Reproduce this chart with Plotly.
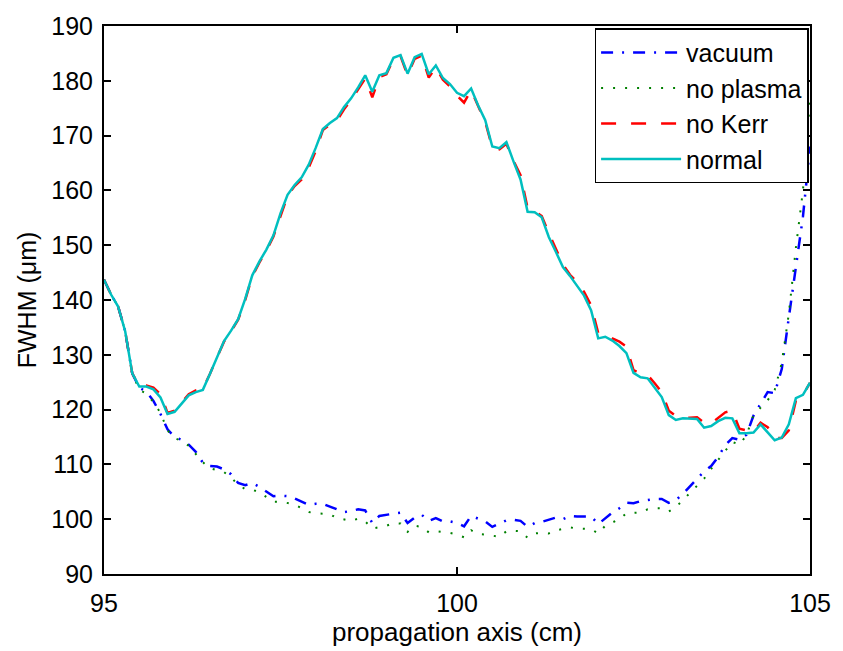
import numpy as np
import plotly.graph_objects as go

# propagation axis positions (cm), 0.1 cm grid
z_cm = np.round(np.arange(950, 1051) / 10.0, 1)

vacuum = [
    143.7, 141.0, 138.8, 134.3, 126.6, 124.0, 123.3, 121.6, 119.2, 116.4,
    115.0, 114.5, 113.6, 112.3, 110.3, 109.7, 109.6, 109.1, 108.2, 106.6,
    106.2, 106.6, 105.9, 105.0, 104.2, 104.3, 104.2, 103.8, 103.2, 102.6,
    102.8, 102.8, 102.3, 101.8, 101.3, 101.5, 101.8, 101.6, 99.3, 100.6,
    100.8, 101.1, 101.2, 99.3, 100.3, 100.8, 99.7, 100.2, 99.6, 99.6,
    99.3, 98.7, 100.6, 100.1, 99.6, 98.6, 99.2, 99.8, 99.9, 99.7,
    98.6, 99.3, 99.5, 99.9, 100.3, 100.0, 100.6, 100.5, 100.5, 100.5,
    99.1, 100.2, 101.2, 102.0, 103.0, 102.9, 103.3, 103.5, 103.7, 103.7,
    103.0, 103.5, 104.6, 106.0, 107.3, 108.7, 109.7, 111.4, 113.5, 114.8,
    114.5, 115.4, 118.9, 121.0, 123.2, 123.0, 127.4, 136.8, 146.3, 155.2,
    168.0,
]

no_plasma = [
    143.7, 141.0, 138.8, 134.3, 126.6, 123.6, 122.9, 121.4, 119.4, 116.2,
    114.8, 114.3, 113.4, 112.0, 110.4, 109.3, 109.0, 108.6, 107.6, 106.3,
    105.5, 105.4, 104.9, 104.0, 103.2, 103.2, 103.0, 102.7, 102.0, 101.3,
    101.1, 101.0, 100.9, 100.2, 99.9, 99.7, 100.1, 99.6, 98.3, 98.5,
    98.8, 99.3, 99.2, 97.7, 98.8, 98.6, 97.6, 97.8, 97.7, 97.5,
    97.2, 96.7, 98.0, 97.3, 97.2, 97.0, 96.8, 97.8, 97.9, 97.8,
    96.6, 97.4, 97.5, 97.4, 98.0, 98.2, 98.5, 98.3, 98.3, 98.2,
    97.4, 98.8, 99.4, 100.0, 101.1, 101.1, 101.2, 101.8, 102.0, 102.0,
    101.4, 102.2, 103.5, 104.9, 106.1, 107.4, 109.2, 110.8, 112.3, 114.1,
    113.6, 115.3, 119.0, 120.3, 121.7, 123.6, 128.5, 137.5, 149.5, 160.0,
    176.5,
]

no_kerr = [
    143.7, 141.0, 138.8, 134.3, 126.6, 124.3, 124.4, 124.0, 122.8, 119.4,
    119.8, 121.2, 122.8, 123.5, 123.8, 126.5, 129.3, 132.4, 134.3, 136.4,
    140.0, 144.3, 146.8, 149.0, 151.6, 155.5, 159.0, 160.8, 162.0, 164.2,
    167.2, 171.0, 172.0, 172.7, 174.8, 176.5, 178.5, 180.4, 177.0, 180.7,
    181.2, 184.0, 184.5, 181.0, 184.0, 184.6, 180.6, 182.5, 180.2, 179.0,
    177.3, 176.0, 178.3, 175.3, 172.5, 167.8, 167.5, 168.5, 165.4, 162.8,
    156.8, 156.2, 155.3, 152.2, 149.4, 146.5, 144.6, 143.3, 141.5, 139.0,
    134.0, 133.8, 133.0, 132.4, 131.5, 127.2, 126.6, 126.3, 124.8, 123.2,
    119.8, 118.8, 118.6, 118.5, 118.6, 117.6, 117.5, 118.5, 119.5, 119.8,
    116.5, 116.2, 116.0, 117.6, 116.8, 114.8, 114.8, 116.2, 121.6, 122.6,
    124.9,
]

normal = [
    143.7, 141.0, 138.8, 134.3, 126.6, 124.2, 124.2, 123.7, 122.2, 119.2,
    119.6, 121.1, 122.6, 123.2, 123.6, 126.5, 129.4, 132.5, 134.4, 136.5,
    140.2, 144.5, 147.0, 149.2, 151.8, 155.8, 159.2, 161.0, 162.4, 164.7,
    167.8, 171.2, 172.3, 173.2, 175.2, 176.8, 178.8, 181.0, 178.0, 181.0,
    181.4, 184.2, 184.7, 181.3, 184.3, 184.9, 181.2, 182.8, 180.5, 179.4,
    177.8, 177.2, 178.6, 175.5, 172.8, 168.0, 167.7, 168.8, 165.3, 162.0,
    156.1, 156.0, 155.1, 151.5, 148.8, 146.0, 144.4, 142.6, 140.8, 138.1,
    133.0, 133.3, 132.6, 131.6, 130.3, 126.7, 125.9, 125.7, 124.1, 122.3,
    119.0, 118.1, 118.4, 118.4, 118.3, 116.7, 117.0, 117.9, 118.5, 118.4,
    115.7, 115.7, 115.8, 117.3, 115.8, 114.4, 114.9, 117.3, 122.1, 122.7,
    124.9,
]

x_ticks = [95, 100, 105]
y_ticks = [90, 100, 110, 120, 130, 140, 150, 160, 170, 180, 190]

FONT = "Liberation Sans, Arial, Helvetica, sans-serif"

fig = go.Figure()
fig.add_trace(go.Scatter(x=z_cm, y=vacuum, mode="lines", name="vacuum",
                         line=dict(color="#0000FF", width=2.5, dash="12px,9px,2px,9px")))
fig.add_trace(go.Scatter(x=z_cm, y=no_plasma, mode="lines", name="no plasma",
                         line=dict(color="#008000", width=2, dash="2px,10px")))
fig.add_trace(go.Scatter(x=z_cm, y=no_kerr, mode="lines", name="no Kerr",
                         line=dict(color="#FF0000", width=2.5, dash="15px,15px")))
fig.add_trace(go.Scatter(x=z_cm, y=normal, mode="lines", name="normal",
                         line=dict(color="#00BFBF", width=2.5)))

axis_common = dict(
    showline=True, linecolor="black", linewidth=2, mirror="ticks",
    ticks="inside", ticklen=7, tickwidth=2, tickcolor="black",
    showgrid=False, zeroline=False, ticklabeloverflow="allow",
    tickfont=dict(family=FONT, size=25, color="black"),
)

fig.update_layout(
    width=843, height=651,
    margin=dict(l=104, r=23, t=14, b=73),
    paper_bgcolor="white", plot_bgcolor="white",
    font=dict(family=FONT, color="black"),
    xaxis=dict(range=[95, 105], tickvals=x_ticks, ticktext=[str(v) for v in x_ticks],
               title=dict(text="propagation axis (cm)", font=dict(size=26), standoff=4),
               ticklabelstandoff=6,
               **axis_common),
    yaxis=dict(range=[90, 190], tickvals=y_ticks, ticktext=[str(v) for v in y_ticks],
               title=dict(text="FWHM (μm)", font=dict(size=25), standoff=8),
               ticklabelstandoff=4,
               **axis_common),
    legend=dict(x=0.998, y=0.996, xanchor="right", yanchor="top",
                bgcolor="white", bordercolor="black", borderwidth=1.5,
                font=dict(family=FONT, size=25, color="black"),
                itemwidth=80, tracegroupgap=0),
    showlegend=True,
)

fig.write_html("out.html")
